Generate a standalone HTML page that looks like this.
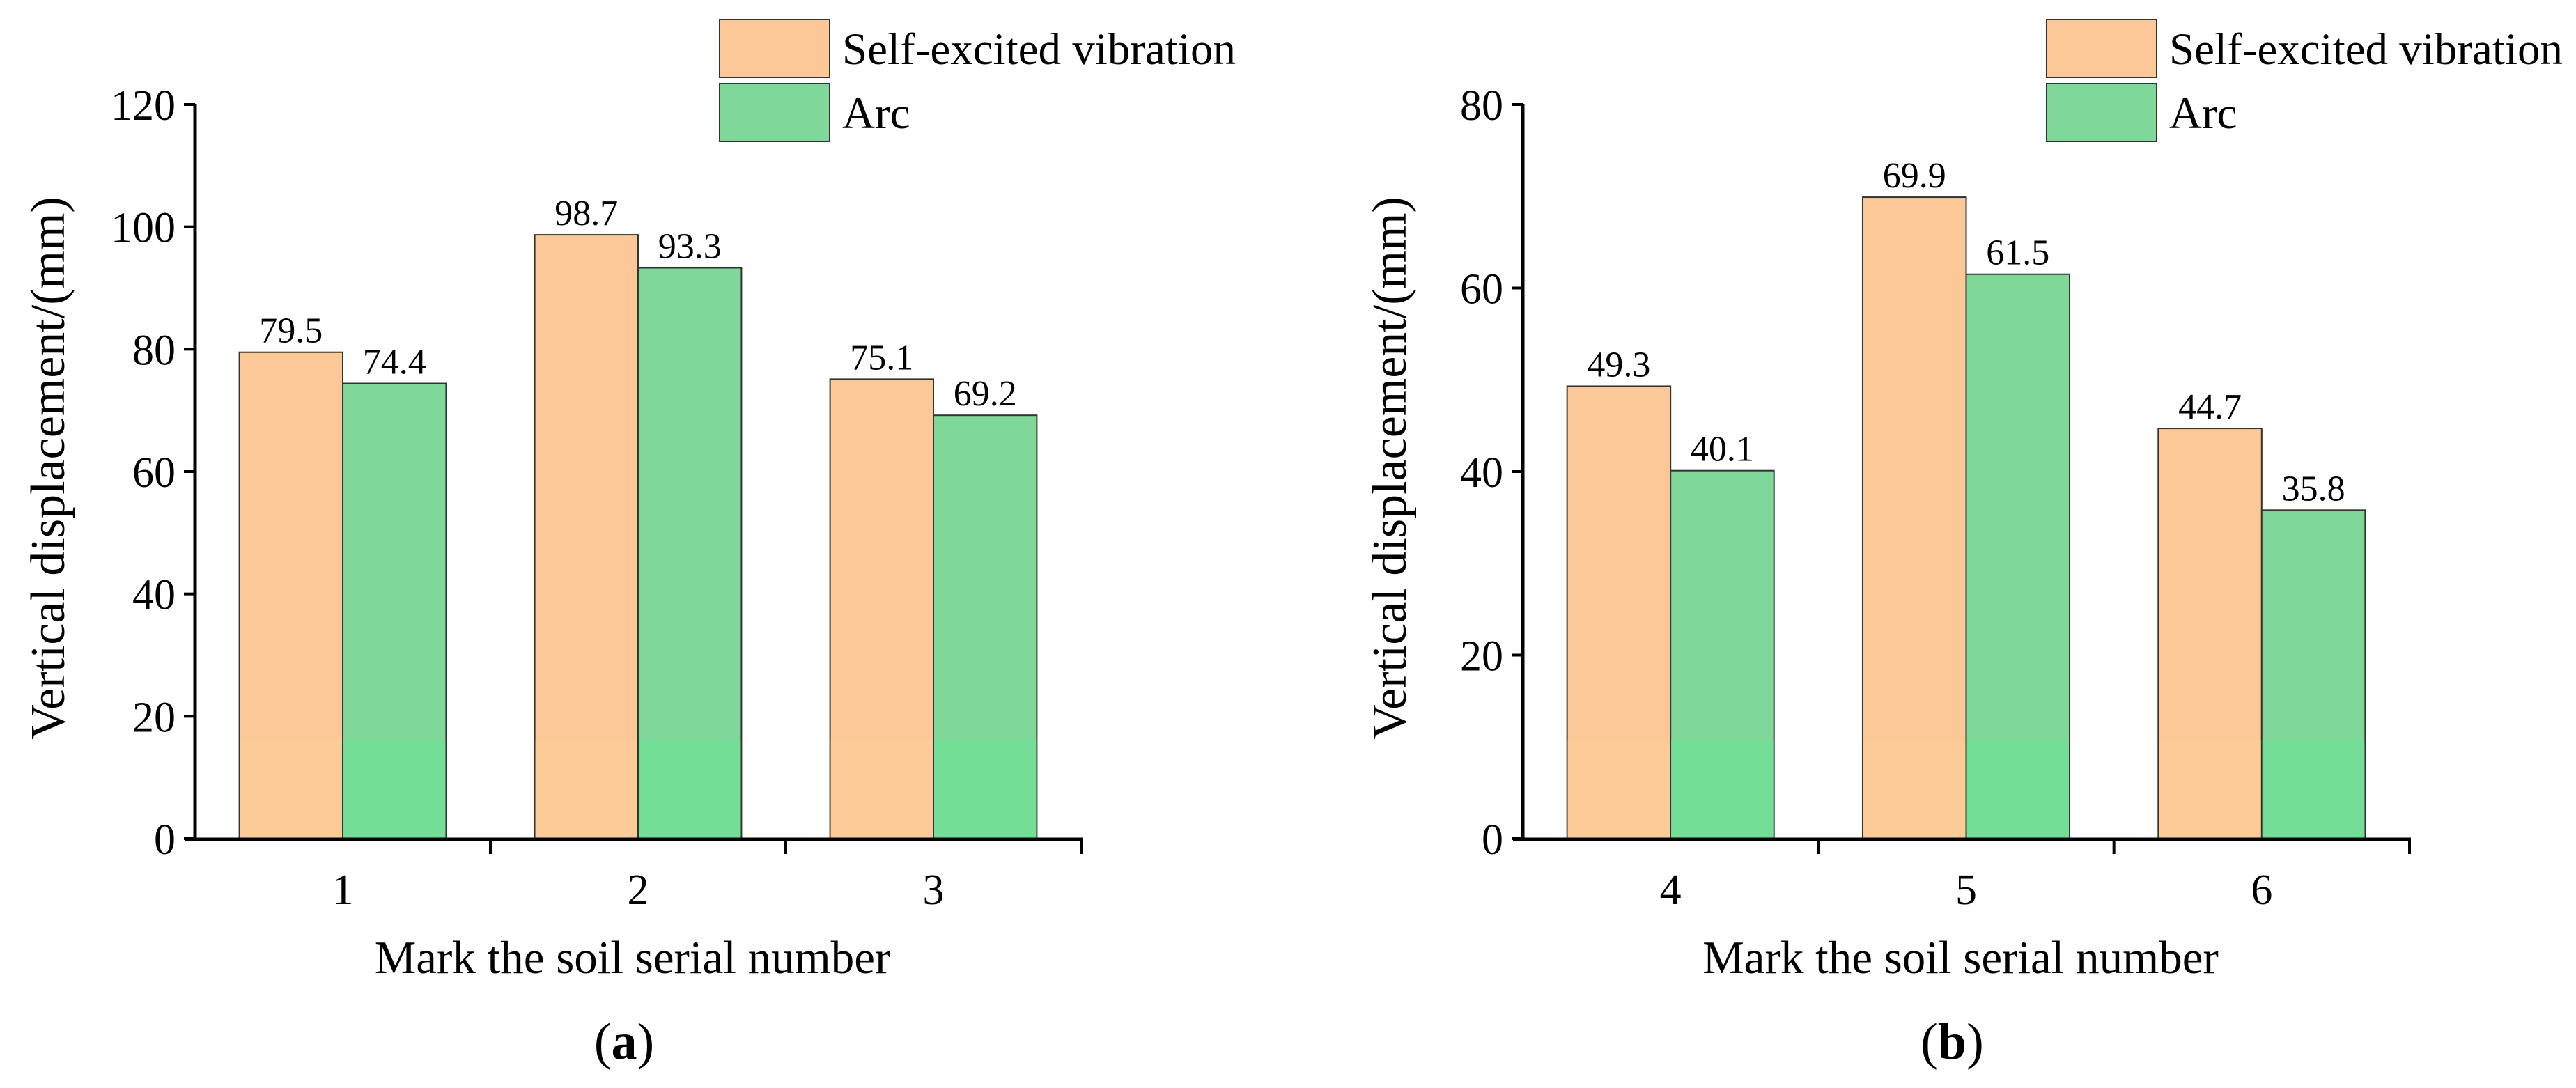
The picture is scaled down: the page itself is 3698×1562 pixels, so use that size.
<!DOCTYPE html>
<html><head><meta charset="utf-8"><style>
html,body{margin:0;padding:0;background:#fff;}
svg{display:block;font-family:"Liberation Serif",serif;}
</style></head><body>
<svg id="chart" width="3698" height="1562" viewBox="0 0 3698 1562" xmlns="http://www.w3.org/2000/svg"></svg>
<script>
const catsA = ["1","2","3"];
const selfA = [79.5, 98.7, 75.1];
const arcA = [74.4, 93.3, 69.2];
const ticksA = [0,20,40,60,80,100,120];
const catsB = ["4","5","6"];
const selfB = [49.3, 69.9, 44.7];
const arcB = [40.1, 61.5, 35.8];
const ticksB = [0,20,40,60,80];

const NS = "http://www.w3.org/2000/svg";
const svg = document.getElementById("chart");
function mk(tag, attrs, parent){
  const e = document.createElementNS(NS, tag);
  for (const k in attrs) e.setAttribute(k, attrs[k]);
  (parent||svg).appendChild(e);
  return e;
}
const ORANGE="#fdc897", GREEN="#7fd89a", ORANGE2="#fdcb98", GREEN2="#72de96";

function panel(id, x0, x1, cats, s1, s2, ticks, ymax, titleX, legX, letter){
  const g = mk("g", {});
  
  
  const y0 = 1204, yTop = 150;
  const ys = v => y0 - (v/ymax)*(y0-yTop);
  const gw = (x1-x0)/cats.length;
  const xs = i => x0 + gw*(i+0.5);
  const bw = gw*0.35;
  const series=[s1,s2], cols=[ORANGE,GREEN], cols2=[ORANGE2,GREEN2];
  cats.forEach((c,i)=>{
    series.forEach((s,j)=>{
      const bx = xs(i) - bw + j*bw, by = ys(s[i]);
      const r = mk("rect",{x:bx,y:by,width:bw,height:y0-by,fill:cols[j],stroke:"#333","stroke-width":2},g);
      
      
      const bandTop = Math.max(by, 1062);
      mk("rect",{x:bx+1,y:bandTop,width:bw-2,height:y0-bandTop-1,fill:cols2[j]},g);
      const t = mk("text",{x:bx+bw/2,y:by-14,"font-size":52,"text-anchor":"middle"},g);
      t.textContent = s[i].toFixed(1);
      
      
    });
    const xl = mk("text",{x:xs(i),y:1298,"font-size":62,"text-anchor":"middle"},g);
    xl.textContent = c;
    
    
  });
  const ya = mk("line",{x1:x0,y1:yTop,x2:x0,y2:y0+3,stroke:"#000","stroke-width":5},g);
  
  
  const xa = mk("line",{x1:x0-14,y1:y0+1,x2:x1+2,y2:y0+1,stroke:"#000","stroke-width":5},g);
  
  
  for(let i=1;i<=cats.length;i++){
    mk("line",{x1:x0+gw*i,y1:y0,x2:x0+gw*i,y2:y0+22,stroke:"#000","stroke-width":4},g);
  }
  ticks.forEach(v=>{
    mk("line",{x1:x0-16,y1:ys(v),x2:x0,y2:ys(v),stroke:"#000","stroke-width":4},g);
    const t = mk("text",{x:x0-28,y:ys(v)+22,"font-size":62,"text-anchor":"end"},g);
    t.textContent = v;
    
    
  });
  const yt = mk("text",{x:0,y:0,"font-size":70,"text-anchor":"middle",transform:`translate(${titleX},${672}) rotate(-90)`},g);
  yt.textContent = "Vertical displacement/(mm)";
  
  
  const xt = mk("text",{x:(x0+x1)/2-8,y:1397,"font-size":67,"text-anchor":"middle"},g);
  xt.textContent = "Mark the soil serial number";
  
  
  const pl = mk("text",{x:(x0+x1)/2-20,y:1520,"font-size":74,"text-anchor":"middle"},g);
  pl.innerHTML = '(<tspan font-weight="bold">'+letter+'</tspan>)';
  
  
  const names=["Self-excited vibration","Arc"], ly=[28,120];
  names.forEach((n,j)=>{
    const lr = mk("rect",{x:legX,y:ly[j],width:158,height:83,fill:cols[j],stroke:"#333","stroke-width":2},g);
    
    
    const lt = mk("text",{x:legX+176,y:ly[j]+64,"font-size":65},g);
    lt.textContent = n;
    
    
  });
}
panel("a", 280, 1552, catsA, selfA, arcA, ticksA, 120, 92, 1033, "a");
panel("b", 2186, 3459, catsB, selfB, arcB, ticksB, 80, 2018, 2938, "b");
</script>
</body></html>
